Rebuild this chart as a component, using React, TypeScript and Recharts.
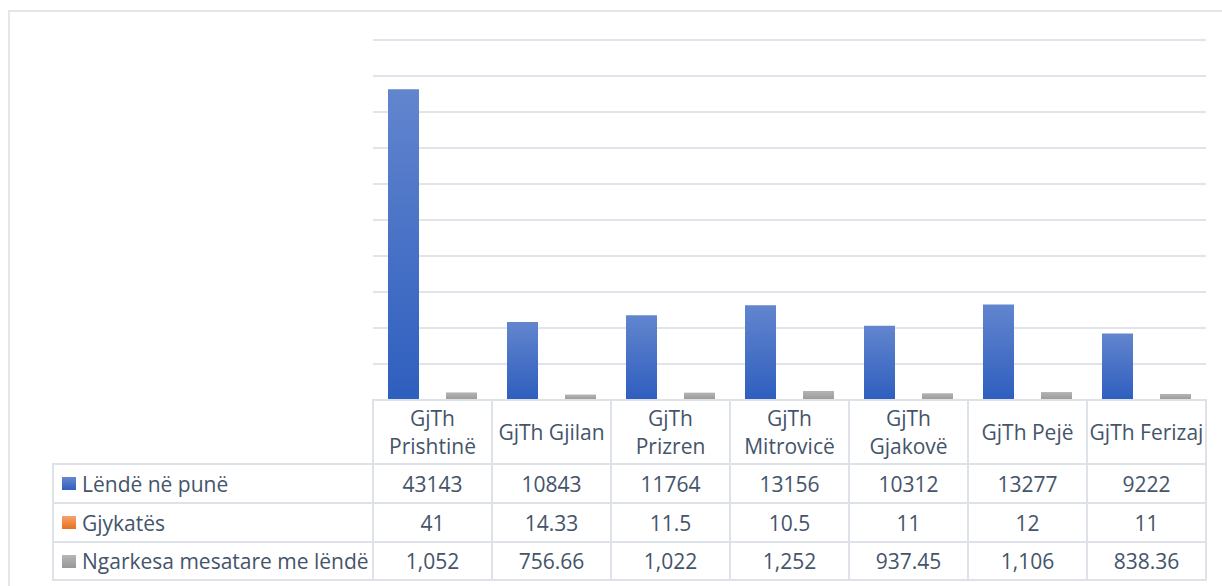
import { BarChart, Bar, XAxis, YAxis, CartesianGrid } from 'recharts'

const courts = ['GjTh Prishtinë', 'GjTh Gjilan', 'GjTh Prizren', 'GjTh Mitrovicë', 'GjTh Gjakovë', 'GjTh Pejë', 'GjTh Ferizaj']
const headerLines = [
  ['GjTh', 'Prishtinë'],
  ['GjTh Gjilan'],
  ['GjTh', 'Prizren'],
  ['GjTh', 'Mitrovicë'],
  ['GjTh', 'Gjakovë'],
  ['GjTh Pejë'],
  ['GjTh Ferizaj'],
]
const casesInWork = [43143, 10843, 11764, 13156, 10312, 13277, 9222]
const judges = [41, 14.33, 11.5, 10.5, 11, 12, 11]
const avgLoad = [1052, 756.66, 1022, 1252, 937.45, 1106, 838.36]
const seriesNames = ['Lëndë në punë', 'Gjykatës', 'Ngarkesa mesatare me lëndë']
const yTicks = [0, 5000, 10000, 15000, 20000, 25000, 30000, 35000, 40000, 45000, 50000]

const data = courts.map((court, i) => ({
  court,
  work: casesInWork[i],
  judges: judges[i],
  load: avgLoad[i],
}))

const W = 1222
const H = 586
const LEFT = 373
const COL = 119
const PLOT_TOP = 40
const PLOT_BOTTOM = 400
const LEGEND_LEFT = 53
const ROWS = [400, 464, 503, 542, 580]
const LINE = '#DDE2E9'
const TEXT = '#44546A'
const FONT = '"Open Sans", Lato, sans-serif'
const FS = 21

const KEY_GRADIENTS = [
  'linear-gradient(#6787D0, #2F5FBE)',
  'linear-gradient(#F4A46C, #E8701F)',
  'linear-gradient(#B6B6B6, #979797)',
]

const fmtLoad = (v: number) => v.toLocaleString('en-US', { maximumFractionDigits: 2 })
const rowValues = [
  casesInWork.map(v => String(v)),
  judges.map(v => String(v)),
  avgLoad.map(fmtLoad),
]

function HLine({ x1, x2, y }: { x1: number; x2: number; y: number }) {
  return <div style={{ position: 'absolute', left: x1 - 1, top: y - 1, width: x2 - x1 + 2, height: 2, background: LINE }} />
}

function VLine({ x, y1, y2 }: { x: number; y1: number; y2: number }) {
  return <div style={{ position: 'absolute', left: x - 1, top: y1 - 1, width: 2, height: y2 - y1 + 2, background: LINE }} />
}

export default function App() {
  const right = LEFT + COL * courts.length
  return (
    <div style={{ position: 'fixed', left: 0, top: 0, width: W, height: H, overflow: 'hidden', background: '#fff', fontFamily: FONT, color: TEXT }}>
      <div style={{ position: 'absolute', left: 8, top: 10, width: W, height: H, border: '2px solid #E3E7EC' }} />

      <div style={{ position: 'absolute', left: 0, top: 0 }}>
        <BarChart
          width={W}
          height={H}
          data={data}
          margin={{ top: PLOT_TOP, right: W - right, bottom: H - PLOT_BOTTOM, left: LEFT }}
          barSize={31}
          barGap={-2}
        >
          <defs>
            <linearGradient id="gBlue" x1="0" y1="0" x2="0" y2="1">
              <stop offset="0%" stopColor="#6285CE" />
              <stop offset="100%" stopColor="#2E5EBE" />
            </linearGradient>
            <linearGradient id="gOrange" x1="0" y1="0" x2="0" y2="1">
              <stop offset="0%" stopColor="#F4A46C" />
              <stop offset="100%" stopColor="#E8701F" />
            </linearGradient>
            <linearGradient id="gGray" x1="0" y1="0" x2="0" y2="1">
              <stop offset="0%" stopColor="#B4B4B4" />
              <stop offset="100%" stopColor="#999999" />
            </linearGradient>
          </defs>
          <CartesianGrid vertical={false} stroke="#E1E5EB" strokeWidth={2} />
          <XAxis dataKey="court" hide />
          <YAxis hide domain={[0, 50000]} ticks={yTicks} />
          <Bar dataKey="work" name={seriesNames[0]} fill="url(#gBlue)" isAnimationActive={false} />
          <Bar dataKey="judges" name={seriesNames[1]} fill="url(#gOrange)" isAnimationActive={false} />
          <Bar dataKey="load" name={seriesNames[2]} fill="url(#gGray)" isAnimationActive={false} />
        </BarChart>
      </div>

      {/* data table */}
      {courts.map((c, i) => (
        <div
          key={c}
          style={{
            position: 'absolute', left: LEFT + i * COL, top: ROWS[0], width: COL, height: ROWS[1] - ROWS[0],
            display: 'flex', flexDirection: 'column', alignItems: 'center', justifyContent: 'center',
            fontSize: FS, lineHeight: '28px', whiteSpace: 'nowrap',
          }}
        >
          {headerLines[i].map(l => <div key={l}>{l}</div>)}
        </div>
      ))}

      {seriesNames.map((name, r) => (
        <div key={name}>
          <div
            style={{
              position: 'absolute', left: LEGEND_LEFT, top: ROWS[r + 1], width: LEFT - LEGEND_LEFT, height: ROWS[r + 2] - ROWS[r + 1],
              display: 'flex', alignItems: 'center', fontSize: FS, whiteSpace: 'nowrap',
            }}
          >
            <span style={{ display: 'inline-block', width: 14, height: 13, marginLeft: 9, marginRight: 6, background: KEY_GRADIENTS[r] }} />
            {name}
          </div>
          {rowValues[r].map((v, i) => (
            <div
              key={i}
              style={{
                position: 'absolute', left: LEFT + i * COL, top: ROWS[r + 1], width: COL, height: ROWS[r + 2] - ROWS[r + 1],
                display: 'flex', alignItems: 'center', justifyContent: 'center', fontSize: FS,
              }}
            >
              {v}
            </div>
          ))}
        </div>
      ))}

      <HLine x1={LEFT} x2={right} y={ROWS[0]} />
      {ROWS.slice(1).map(y => <HLine key={y} x1={LEGEND_LEFT} x2={right} y={y} />)}
      <VLine x={LEGEND_LEFT} y1={ROWS[1]} y2={ROWS[4]} />
      {courts.map((c, i) => <VLine key={c} x={LEFT + i * COL} y1={ROWS[0]} y2={ROWS[4]} />)}
      <VLine x={right} y1={ROWS[0]} y2={ROWS[4]} />
    </div>
  )
}
